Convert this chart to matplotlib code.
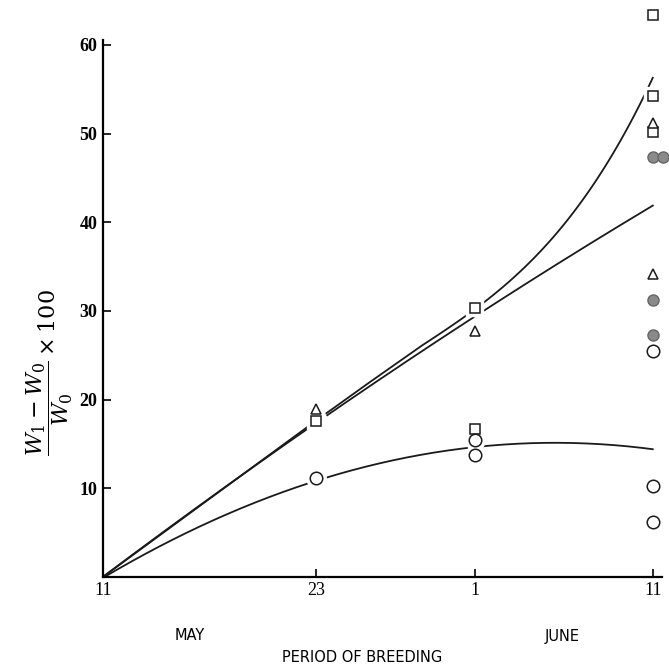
import numpy as np
import matplotlib
matplotlib.use('Agg')
import matplotlib.pyplot as plt

# days counted from May 11
tick_days = [0, 12, 21, 31]
tick_names = ['11', '23', '1', '11']
y_ticks = [10, 20, 30, 40, 50, 60]

# observed points (day, value)
sq_x = [12, 21, 21, 31, 31, 31]
sq_y = [17.6, 30.3, 16.7, 63.4, 54.2, 50.2]
tri_x = [12, 21, 31, 31]
tri_y = [18.9, 27.7, 51.2, 34.2]
circ_x = [12, 21, 21, 31, 31, 31]
circ_y = [11.2, 15.4, 13.8, 25.5, 10.2, 6.2]
dot_x = [31, 31.55, 31, 31]
dot_y = [47.3, 47.3, 31.2, 27.3]

# hand-drawn curves
upper_x = [0, 3, 6, 9, 12, 15, 18, 21, 23, 25, 27, 29, 31]
upper_y = [0, 4.4, 8.8, 13.2, 17.6, 21.9, 26.1, 30.3, 33.4, 37.4, 42.5, 48.5, 56.3]
mid_x = [0, 6, 12, 17, 21, 26, 31]
mid_y = [0, 8.8, 17.4, 24.4, 29.2, 35.6, 42.0]
low_x = [0, 3, 6, 9, 12, 16, 21, 26, 31]
low_y = [0, 3.2, 6.0, 8.6, 11.0, 13.2, 14.6, 14.9, 14.5]

plt.rcParams['font.family'] = ['Liberation Serif', 'DejaVu Serif']
plt.rcParams['mathtext.fontset'] = 'dejavuserif'

fig = plt.figure(figsize=(6.69, 6.70), dpi=100)
ax = fig.add_axes([0.154, 0.139, 0.835, 0.802])

# upper curve: straight start, smoothed bend after about May 29
ux = np.array(upper_x)
uy = np.array(upper_y)
bend = ux >= 18
p = np.polyfit(ux[bend], uy[bend], 3)
xb = np.linspace(18, 31, 120)
ax.plot(np.r_[ux[~bend], xb], np.r_[uy[~bend], np.polyval(p, xb)],
        color='#1a1a1a', lw=1.3, zorder=2)

xs = np.linspace(0, 31, 200)
for cx, cy, deg in [(mid_x, mid_y, 2), (low_x, low_y, 3)]:
    p = np.polyfit(cx, cy, deg)
    ax.plot(xs, np.polyval(p, xs), color='#1a1a1a', lw=1.3, zorder=2)

# white halo under markers gives the gaps in the lines
for mx, my, m, s in [(sq_x, sq_y, 's', 7), (tri_x, tri_y, '^', 7),
                     (circ_x, circ_y, 'o', 9), (dot_x, dot_y, 'o', 8)]:
    ax.plot(mx, my, ls='none', marker=m, ms=s, mfc='white', mec='white',
            mew=6, zorder=3, clip_on=False)
ax.plot(sq_x, sq_y, ls='none', marker='s', ms=7, mfc='white', mec='#1a1a1a',
        mew=1.1, zorder=4, clip_on=False)
ax.plot(tri_x, tri_y, ls='none', marker='^', ms=7, mfc='white', mec='#1a1a1a',
        mew=1.1, zorder=4, clip_on=False)
ax.plot(circ_x, circ_y, ls='none', marker='o', ms=9, mfc='white', mec='#1a1a1a',
        mew=1.1, zorder=4, clip_on=False)
ax.plot(dot_x, dot_y, ls='none', marker='o', ms=8, mfc='#8a8a8a', mec='#666666',
        mew=1.0, zorder=4, clip_on=False)

ax.set_xlim(0, 31.5)
ax.set_ylim(0, 60.6)
ax.spines['top'].set_visible(False)
ax.spines['right'].set_visible(False)
ax.spines['left'].set_linewidth(1.6)
ax.spines['bottom'].set_linewidth(1.6)

ax.set_xticks(tick_days)
ax.set_xticklabels(tick_names, fontsize=13)
ax.set_yticks(y_ticks)
ax.set_yticklabels([str(v) for v in y_ticks], fontsize=13, fontweight='bold')
ax.tick_params(axis='both', direction='in', length=6, width=1.2, pad=4)

ax.set_ylabel(r'$\dfrac{W_1 - W_0}{W_0} \times 100$', fontsize=16)
ax.yaxis.set_label_coords(-0.05, 0.38)

fig.text(190 / 669, 1 - 636 / 670, 'MAY', fontsize=10.5, family='DejaVu Sans',
         ha='center', va='center')
fig.text(562 / 669, 1 - 636 / 670, 'JUNE', fontsize=10.5, family='DejaVu Sans',
         ha='center', va='center')
fig.text(362 / 669, 1 - 657 / 670, 'PERIOD OF BREEDING', fontsize=10.5,
         family='DejaVu Sans', ha='center', va='center')

fig.savefig('out.png', dpi=100)
